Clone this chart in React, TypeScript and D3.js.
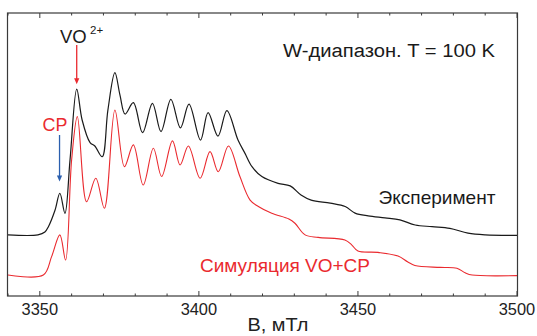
import React from "react";
import * as d3 from "d3";

// Magnetic field, mT (experiment)
const expField = [
  3340, 3349.4, 3351.6, 3352.7, 3354.8, 3356.3, 3357.9, 3359.5, 3361.6, 3363.3,
  3365.8, 3367.3, 3369.6, 3371.4, 3373.6, 3375.2, 3376.8, 3379.4, 3382.3, 3385.4,
  3388.1, 3391.2, 3394.2, 3396.9, 3400.5, 3402.9, 3406.0, 3408.8, 3412.3, 3414.5,
  3416.7, 3419.8, 3424.9, 3428.7, 3432.1, 3435.3, 3441.3, 3446.0, 3449.1, 3453.2,
  3458.5, 3463.2, 3468.0, 3473.3, 3478.9, 3484.6, 3490.0, 3500,
];
// Experimental intensity (arb. units, includes vertical offset)
const expIntensity = [
  21.6, 21.6, 22.6, 24.5, 30.4, 36.3, 29.2, 48.1, 73.1, 62.2,
  54.2, 53.0, 49.2, 65.7, 78.9, 71.0, 64.3, 68.3, 57.7, 68.1,
  58.1, 69.5, 59.4, 67.8, 55.1, 64.8, 56.5, 65.5, 55.1, 50.4,
  45.7, 42.2, 39.8, 38.9, 35.7, 33.9, 32.8, 31.6, 29.3, 28.3,
  27.6, 26.9, 25.1, 24.5, 23.9, 22.2, 21.6, 21.4,
];

// Simulation VO+CP
const simField = [
  3340, 3351.1, 3353.7, 3356.3, 3358.1, 3360.0, 3361.8, 3364.7, 3367.6, 3370.3,
  3373.6, 3376.6, 3379.4, 3382.5, 3385.7, 3388.3, 3391.7, 3394.1, 3396.7, 3400.4,
  3403.5, 3406.1, 3409.3, 3412.9, 3416.1, 3418.7, 3422.9, 3428.3, 3430.2, 3433.4,
  3437.5, 3445.9, 3448.1, 3450.0, 3456.3, 3462.6, 3465.7, 3467.9, 3475.8, 3481.1,
  3483.7, 3485.9, 3500,
];
const simIntensity = [
  7.4, 7.4, 13.9, 21.6, 12.7, 48.1, 63.4, 33.3, 41.6, 31.0,
  65.7, 45.7, 53.4, 39.2, 52.2, 42.2, 54.8, 46.3, 53.0, 41.6,
  51.0, 43.9, 53.0, 42.2, 33.9, 31.6, 29.2, 27.2, 25.7, 21.6,
  20.7, 19.8, 18.0, 15.9, 15.4, 14.1, 12.0, 10.8, 10.1, 9.8,
  8.2, 7.4, 7.2,
];

const xDomain = [3340, 3500];
const majorTicks = [3350, 3400, 3450, 3500];
const minorTicks = d3.range(3340, 3501, 10);

const W = 537;
const H = 336;
const left = 8;
const right = 517;
const top = 13;
const bottom = 296;

export default function App() {
  const x = d3.scaleLinear().domain(xDomain).range([left, right]);
  const y = d3.scaleLinear().domain([0, 100]).range([bottom, top]);

  const line = d3
    .line<[number, number]>()
    .x((d) => x(d[0]))
    .y((d) => y(d[1]))
    .curve(d3.curveCatmullRom.alpha(0.5));

  const expPts = expField.map((b, i) => [b, expIntensity[i]] as [number, number]);
  const simPts = simField.map((b, i) => [b, simIntensity[i]] as [number, number]);

  const red = "#ea2a2f";
  const blue = "#2b5fae";
  const axisCol = "#3a3a3a";
  const font = "Liberation Sans, Arial, sans-serif";

  // arrows (data coords)
  const voArrow = { b: 3361.6, from: 88.7, to: 74.8 };
  const cpArrow = { b: 3356.2, from: 56.9, to: 40.5 };

  const arrow = (a: { b: number; from: number; to: number }, color: string) => {
    const ax = x(a.b);
    const y1 = y(a.from);
    const y2 = y(a.to);
    const head = 6;
    return (
      <g>
        <line x1={ax} x2={ax} y1={y1} y2={y2 - head + 1} stroke={color} strokeWidth={1.3} />
        <path d={`M${ax - 2.6},${y2 - head} L${ax + 2.6},${y2 - head} L${ax},${y2} Z`} fill={color} />
      </g>
    );
  };

  return (
    <svg
      width={W}
      height={H}
      style={{ position: "absolute", left: 0, top: 0, background: "#fff" }}
      fontFamily={font}
    >
      <rect x={0} y={0} width={W} height={H} fill="#fff" />
      {/* frame */}
      <rect
        x={left - 0.5}
        y={top}
        width={right - left + 1}
        height={bottom - top}
        fill="none"
        stroke={axisCol}
        strokeWidth={1.2}
      />
      {/* ticks */}
      {minorTicks.map((t) => {
        const major = majorTicks.includes(t);
        const len = major ? 5 : 2.5;
        return (
          <g key={t}>
            <line x1={x(t)} x2={x(t)} y1={bottom} y2={bottom - len} stroke={axisCol} strokeWidth={1} />
            <line x1={x(t)} x2={x(t)} y1={top} y2={top + len} stroke={axisCol} strokeWidth={1} />
          </g>
        );
      })}
      {majorTicks.map((t) => (
        <text
          key={t}
          x={x(t)}
          y={315}
          fontSize={17}
          textAnchor="middle"
          fill="#222"
          textLength={36.5}
          lengthAdjust="spacingAndGlyphs"
        >
          {t}
        </text>
      ))}
      <text x={278} y={331} fontSize={18.5} textAnchor="middle" fill="#222" textLength={61} lengthAdjust="spacingAndGlyphs">
        B, мТл
      </text>

      {/* curves */}
      <path d={line(simPts) || ""} fill="none" stroke={red} strokeWidth={1.1} />
      <path d={line(expPts) || ""} fill="none" stroke="#1a1a1a" strokeWidth={1.2} />

      {/* annotations */}
      {arrow(voArrow, red)}
      {arrow(cpArrow, blue)}
      <text x={60} y={42.7} fontSize={19} fill="#1a1a1a" textLength={26.7} lengthAdjust="spacingAndGlyphs">
        VO
      </text>
      <text x={90} y={33.5} fontSize={11.5} fill="#1a1a1a">
        2+
      </text>
      <text x={42.5} y={131} fontSize={18.5} fill={red} textLength={24.8} lengthAdjust="spacingAndGlyphs">
        CP
      </text>
      <text x={283} y={57} fontSize={18} fill="#1a1a1a" textLength={212} lengthAdjust="spacingAndGlyphs">
        W-диапазон. T = 100 K
      </text>
      <text x={378.5} y={204} fontSize={18.5} fill="#1a1a1a" textLength={117} lengthAdjust="spacingAndGlyphs">
        Эксперимент
      </text>
      <text x={200} y={272} fontSize={18} fill={red} textLength={170} lengthAdjust="spacingAndGlyphs">
        Симуляция VO+CP
      </text>
    </svg>
  );
}
